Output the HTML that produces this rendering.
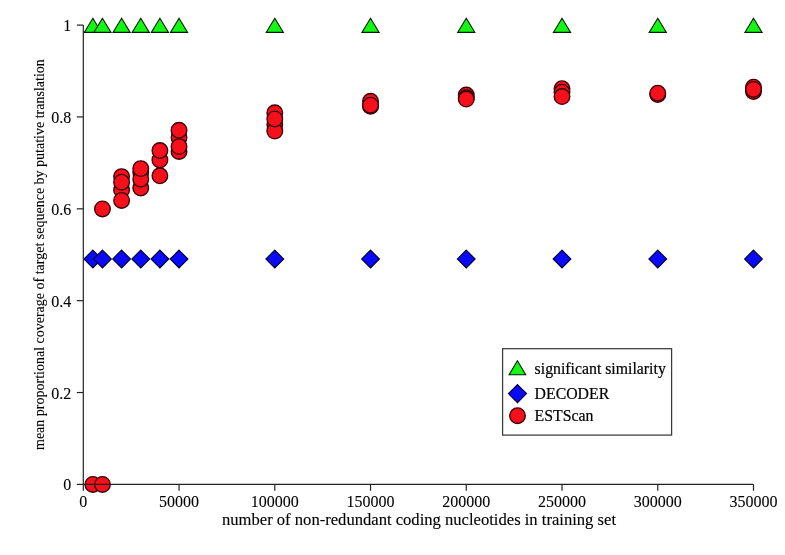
<!DOCTYPE html>
<html><head><meta charset="utf-8"><style>html,body{margin:0;padding:0;background:#fff;width:785px;height:555px;overflow:hidden}</style></head>
<body><svg width="785" height="555" viewBox="0 0 785 555" style="display:block"><rect width="785" height="555" fill="#fff"/><g fill="#12f812" stroke="#031a03" stroke-width="1.1" stroke-linejoin="miter"><path d="M92.87 18.20L101.47 32.40L84.27 32.40Z"/><path d="M102.45 18.20L111.05 32.40L93.85 32.40Z"/><path d="M121.60 18.20L130.20 32.40L113.00 32.40Z"/><path d="M140.75 18.20L149.35 32.40L132.15 32.40Z"/><path d="M159.89 18.20L168.49 32.40L151.29 32.40Z"/><path d="M179.04 18.20L187.64 32.40L170.44 32.40Z"/><path d="M274.79 18.20L283.39 32.40L266.19 32.40Z"/><path d="M370.53 18.20L379.13 32.40L361.93 32.40Z"/><path d="M466.27 18.20L474.87 32.40L457.67 32.40Z"/><path d="M562.01 18.20L570.61 32.40L553.41 32.40Z"/><path d="M657.76 18.20L666.36 32.40L649.16 32.40Z"/><path d="M753.50 18.20L762.10 32.40L744.90 32.40Z"/></g><g fill="#0a0af8" stroke="#00002a" stroke-width="1.1"><path d="M92.87 250.10L101.77 259.00L92.87 267.90L83.97 259.00Z"/><path d="M102.45 250.10L111.35 259.00L102.45 267.90L93.55 259.00Z"/><path d="M121.60 250.10L130.50 259.00L121.60 267.90L112.70 259.00Z"/><path d="M140.75 250.10L149.65 259.00L140.75 267.90L131.85 259.00Z"/><path d="M159.89 250.10L168.79 259.00L159.89 267.90L150.99 259.00Z"/><path d="M179.04 250.10L187.94 259.00L179.04 267.90L170.14 259.00Z"/><path d="M274.79 250.10L283.69 259.00L274.79 267.90L265.89 259.00Z"/><path d="M370.53 250.10L379.43 259.00L370.53 267.90L361.63 259.00Z"/><path d="M466.27 250.10L475.17 259.00L466.27 267.90L457.37 259.00Z"/><path d="M562.01 250.10L570.91 259.00L562.01 267.90L553.11 259.00Z"/><path d="M657.76 250.10L666.66 259.00L657.76 267.90L648.86 259.00Z"/><path d="M753.50 250.10L762.40 259.00L753.50 267.90L744.60 259.00Z"/></g><g fill="#f5101c" stroke="#3a0006" stroke-width="1.35"><circle cx="92.87" cy="484.40" r="7.8"/><circle cx="102.45" cy="484.40" r="7.8"/><circle cx="102.45" cy="208.90" r="7.8"/><circle cx="121.60" cy="190.00" r="7.8"/><circle cx="121.60" cy="176.60" r="7.8"/><circle cx="121.60" cy="182.20" r="7.8"/><circle cx="121.60" cy="200.40" r="7.8"/><circle cx="140.75" cy="172.50" r="7.8"/><circle cx="140.75" cy="188.00" r="7.8"/><circle cx="140.75" cy="179.20" r="7.8"/><circle cx="140.75" cy="168.60" r="7.8"/><circle cx="159.89" cy="159.90" r="7.8"/><circle cx="159.89" cy="150.50" r="7.8"/><circle cx="159.89" cy="175.80" r="7.8"/><circle cx="179.04" cy="151.40" r="7.8"/><circle cx="179.04" cy="137.50" r="7.8"/><circle cx="179.04" cy="130.30" r="7.8"/><circle cx="179.04" cy="146.60" r="7.8"/><circle cx="274.79" cy="124.50" r="7.8"/><circle cx="274.79" cy="131.10" r="7.8"/><circle cx="274.79" cy="112.80" r="7.8"/><circle cx="274.79" cy="118.90" r="7.8"/><circle cx="370.53" cy="101.30" r="7.8"/><circle cx="370.53" cy="106.30" r="7.8"/><circle cx="370.53" cy="105.20" r="7.8"/><circle cx="466.27" cy="95.00" r="7.8"/><circle cx="466.27" cy="97.80" r="7.8"/><circle cx="466.27" cy="99.10" r="7.8"/><circle cx="562.01" cy="88.70" r="7.8"/><circle cx="562.01" cy="92.20" r="7.8"/><circle cx="562.01" cy="96.60" r="7.8"/><circle cx="657.76" cy="94.60" r="7.8"/><circle cx="657.76" cy="93.20" r="7.8"/><circle cx="753.50" cy="87.20" r="7.8"/><circle cx="753.50" cy="91.40" r="7.8"/><circle cx="753.50" cy="89.40" r="7.8"/></g><g stroke="#222" stroke-width="1.2" fill="none"><path d="M83.3 25.1V484.4M83.3 484.4H753.50"/><path d="M76.80 484.40H83.3"/><path d="M76.80 392.54H83.3"/><path d="M76.80 300.68H83.3"/><path d="M76.80 208.82H83.3"/><path d="M76.80 116.96H83.3"/><path d="M76.80 25.10H83.3"/><path d="M83.30 484.4V490.80"/><path d="M179.04 484.4V490.80"/><path d="M274.79 484.4V490.80"/><path d="M370.53 484.4V490.80"/><path d="M466.27 484.4V490.80"/><path d="M562.01 484.4V490.80"/><path d="M657.76 484.4V490.80"/><path d="M753.50 484.4V490.80"/></g><g font-family="Liberation Serif, serif" font-size="16" fill="#000" stroke="#000" stroke-width="0.1"><text x="71.3" y="490.40" text-anchor="end">0</text><text x="71.3" y="398.54" text-anchor="end">0.2</text><text x="71.3" y="306.68" text-anchor="end">0.4</text><text x="71.3" y="214.82" text-anchor="end">0.6</text><text x="71.3" y="122.96" text-anchor="end">0.8</text><text x="71.3" y="31.10" text-anchor="end">1</text><text x="83.30" y="507.3" text-anchor="middle">0</text><text x="179.04" y="507.3" text-anchor="middle">50000</text><text x="274.79" y="507.3" text-anchor="middle">100000</text><text x="370.53" y="507.3" text-anchor="middle">150000</text><text x="466.27" y="507.3" text-anchor="middle">200000</text><text x="562.01" y="507.3" text-anchor="middle">250000</text><text x="657.76" y="507.3" text-anchor="middle">300000</text><text x="753.50" y="507.3" text-anchor="middle">350000</text></g><text x="419" y="524.5" text-anchor="middle" font-family="Liberation Serif, serif" font-size="16.6" fill="#000" stroke="#000" stroke-width="0.12">number of non-redundant coding nucleotides in training set</text><text transform="translate(43.5 254.6) rotate(-90)" text-anchor="middle" font-family="Liberation Serif, serif" font-size="14" fill="#000" stroke="#000" stroke-width="0.1">mean proportional coverage of target sequence by putative translation</text><rect x="502.6" y="348.7" width="169" height="86.4" fill="#fff" stroke="#3a3a3a" stroke-width="1.25"/><g stroke="#000" stroke-width="1.1"><path fill="#12f812" stroke="#031a03" d="M517.40 360.80L525.70 374.80L509.10 374.80Z"/><path fill="#0a0af8" stroke="#00002a" d="M517.50 384.60L526.50 393.60L517.50 402.60L508.50 393.60Z"/><circle cx="517.5" cy="415.7" r="7.8" fill="#f5101c" stroke="#3a0006" stroke-width="1.35"/></g><g font-family="Liberation Serif, serif" font-size="15.8" fill="#000" stroke="#000" stroke-width="0.2"><text x="534.6" y="373.8">significant similarity</text><text x="534.6" y="398.5">DECODER</text><text x="534.6" y="420.8">ESTScan</text></g></svg></body></html>
